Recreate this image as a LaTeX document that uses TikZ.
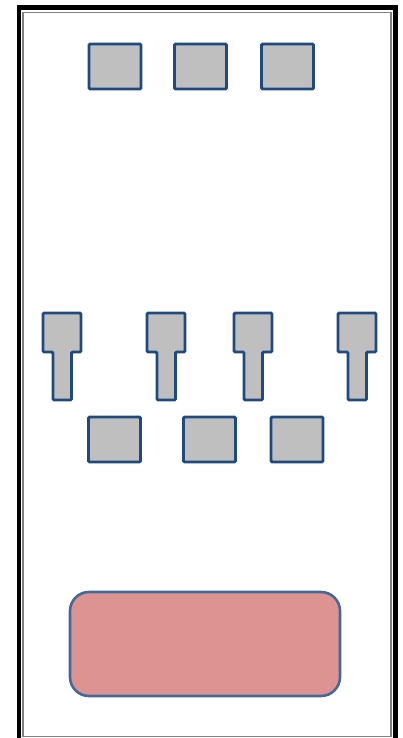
\documentclass[tikz,border=0pt]{standalone}
\usepackage{xcolor}
\usepackage{tikz}
\definecolor{padgray}{HTML}{BFBFBF}
\definecolor{padblue}{HTML}{1F4A7E}
\definecolor{padred}{HTML}{DE9393}
\definecolor{redline}{HTML}{44689A}
\begin{document}
\begin{tikzpicture}[x={(1pt,0)},y={(0,-1pt)},
        pad/.style={draw=padblue,fill=padgray,line width=2.9pt,rounded corners=1.2pt,
            minimum width=52pt,minimum height=45pt,inner sep=0pt},
        keyhole/.style={draw=padblue,fill=padgray,line width=2.9pt,rounded corners=1.2pt},
        tray/.style={draw=redline,fill=padred,line width=2.6pt,rounded corners=19pt,
            minimum width=270pt,minimum height=104pt,inner sep=0pt}]
        \useasboundingbox (0,0) rectangle (403,738);
        \clip (0,0) rectangle (403,738);

        % frame
        \draw[line width=4.5pt,black] (19,7.5) rectangle (395.5,760);
        \draw[line width=1.2pt,gray] (23,12.5) rectangle (391,736.5);

        % top row
        \node[pad] (top1) at (115,66.5) {};
        \node[pad] (top2) at (200.5,66.5) {};
        \node[pad] (top3) at (287.5,66.5) {};

        % keyholes
        \foreach \x in {43,147,234,338}{
            \draw[keyhole] (\x,313) -- (\x+38,313) -- (\x+38,352) -- (\x+28.5,352)
                -- (\x+28.5,400) -- (\x+10,400) -- (\x+10,352) -- (\x,352) -- cycle;
        }

        % bottom row
        \node[pad] (bot1) at (114.5,439.5) {};
        \node[pad] (bot2) at (209.5,439.5) {};
        \node[pad] (bot3) at (297,439.5) {};

        % tray
        \node[tray] (tray) at (205,644) {};
    \end{tikzpicture}
\end{document}
